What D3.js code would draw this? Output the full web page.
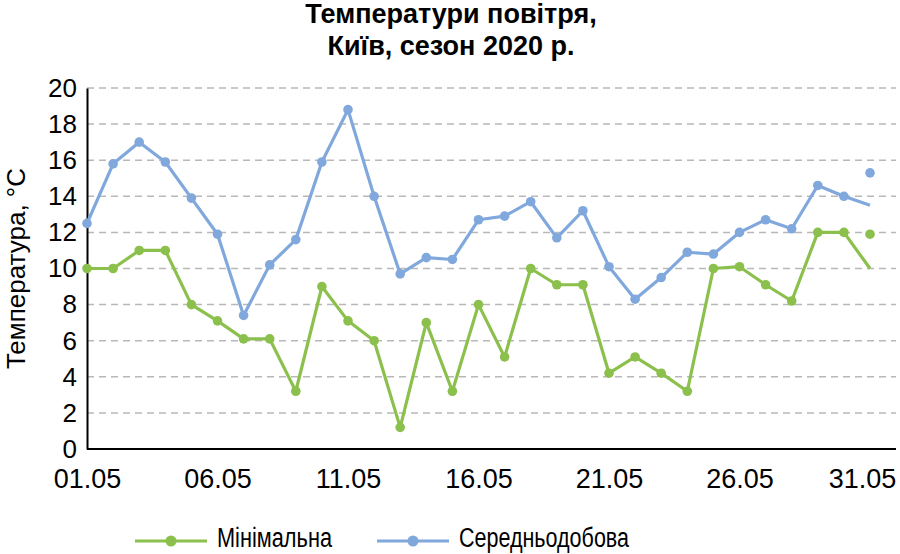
<!DOCTYPE html>
<html>
<head>
<meta charset="utf-8">
<script src="https://cdn.jsdelivr.net/npm/d3@7"></script>
<style>
  body { margin: 0; background: #fff; }
  text { font-family: "Liberation Sans", Arial, sans-serif; }
</style>
</head>
<body>
<div id="chart"></div>
<script>
// days of May, ticks every 5 days
var days = d3.range(1, 32);
var tickDays = [1, 6, 11, 16, 21, 26, 31];
var yTicks = [0, 2, 4, 6, 8, 10, 12, 14, 16, 18, 20];

// marker values for each day
var minTemps = [10.0, 10.0, 11.0, 11.0, 8.0, 7.1, 6.1, 6.1, 3.2, 9.0,
                7.1, 6.0, 1.2, 7.0, 3.2, 8.0, 5.1, 10.0, 9.1, 9.1,
                4.2, 5.1, 4.2, 3.2, 10.0, 10.1, 9.1, 8.2, 12.0, 12.0, 11.9];
var avgTemps = [12.5, 15.8, 17.0, 15.9, 13.9, 11.9, 7.4, 10.2, 11.6, 15.9,
                18.8, 14.0, 9.7, 10.6, 10.5, 12.7, 12.9, 13.7, 11.7, 13.2,
                10.1, 8.3, 9.5, 10.9, 10.8, 12.0, 12.7, 12.2, 14.6, 14.0, 15.3];
// where the lines end on 31.05 (no marker there)
var minLineEnd = 10.0;
var avgLineEnd = 13.5;

var seriesNames = ["Мінімальна", "Середньодобова"];
var seriesColors = ["#8bc04c", "#80a8dc"];

var width = 900, height = 554;
var svg = d3.select("#chart").append("svg")
    .attr("width", width).attr("height", height);

var x = d3.scaleLinear().domain([1, 31]).range([87, 870]);
var y = d3.scaleLinear().domain([0, 20]).range([449, 88]);
var plotRight = 896;

// title
svg.append("text").attr("x", 451).attr("y", 23).attr("text-anchor", "middle")
    .style("font-size", "27px").style("font-weight", "bold").text("Температури повітря,");
svg.append("text").attr("x", 451).attr("y", 55).attr("text-anchor", "middle")
    .style("font-size", "27px").style("font-weight", "bold").text("Київ, сезон 2020 р.");

// grid
svg.append("g").selectAll("line").data(yTicks.filter(function(d){ return d > 0; }))
  .enter().append("line")
    .attr("x1", x(1)).attr("x2", plotRight)
    .attr("y1", function(d){ return y(d); }).attr("y2", function(d){ return y(d); })
    .style("stroke", "#b8b8b8").style("stroke-width", 1.5)
    .style("stroke-dasharray", "7,5");

// y axis
var yAxis = svg.append("g").attr("transform", "translate(" + x(1) + ",0)")
    .call(d3.axisLeft(y).tickValues(yTicks).tickSize(0).tickPadding(10));
yAxis.select(".domain").style("stroke", "#000").style("stroke-width", 2);
yAxis.selectAll("text").style("font-size", "26px").attr("fill", "#000");

// x axis
var xAxis = svg.append("g").attr("transform", "translate(0," + y(0) + ")")
    .call(d3.axisBottom(x).tickValues(tickDays).tickSize(0).tickPadding(20)
      .tickFormat(function(d){ return d3.format("02")(d) + ".05"; }));
xAxis.select(".domain").remove();
xAxis.append("line").attr("x1", x(1)).attr("x2", plotRight)
    .style("stroke", "#000").style("stroke-width", 2);
xAxis.selectAll("text").style("font-size", "27px").attr("fill", "#000");
// last label is pushed in so it stays inside the picture
xAxis.selectAll(".tick").filter(function(d){ return d === 31; })
    .select("text").attr("x", -8);

svg.append("text")
    .attr("transform", "translate(25," + y(10) + ") rotate(-90)")
    .attr("text-anchor", "middle")
    .style("font-size", "26px").text("Температура, °C");

// series
var line = d3.line()
    .x(function(d){ return x(d.day); })
    .y(function(d){ return y(d.v); });

function drawSeries(values, lineEnd, color) {
  var pts = values.map(function(v, i){ return {day: days[i], v: v}; });
  var linePts = pts.slice(0, 30).concat([{day: 31, v: lineEnd}]);
  svg.append("path").datum(linePts)
      .attr("d", line).attr("fill", "none")
      .style("stroke", color).style("stroke-width", 3.2)
      .style("stroke-linejoin", "round");
  svg.append("g").selectAll("circle").data(pts).enter().append("circle")
      .attr("cx", function(d){ return x(d.day); })
      .attr("cy", function(d){ return y(d.v); })
      .attr("r", 4.8).style("fill", color);
}
drawSeries(avgTemps, avgLineEnd, seriesColors[1]);
drawSeries(minTemps, minLineEnd, seriesColors[0]);

// legend
var legendX = [135, 377];
var legendTextW = [115, 170];
var legend = svg.append("g").selectAll("g").data(seriesNames).enter().append("g")
    .attr("transform", function(d, i){ return "translate(" + legendX[i] + ",541)"; });
legend.append("line").attr("x1", 0).attr("x2", 72)
    .style("stroke", function(d, i){ return seriesColors[i]; }).style("stroke-width", 3.2);
legend.append("circle").attr("cx", 36).attr("r", 5.5)
    .style("fill", function(d, i){ return seriesColors[i]; });
legend.append("text").attr("x", 82).attr("y", 6)
    .attr("textLength", function(d, i){ return legendTextW[i]; })
    .attr("lengthAdjust", "spacingAndGlyphs")
    .style("font-size", "27px").text(function(d){ return d; });
</script>
</body>
</html>
